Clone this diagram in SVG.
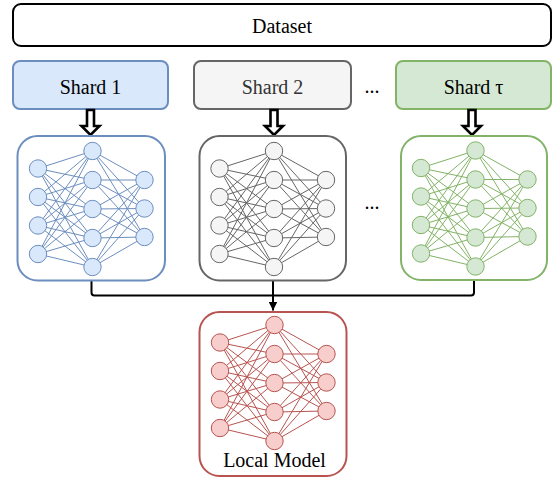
<svg xmlns="http://www.w3.org/2000/svg" xmlns:xlink="http://www.w3.org/1999/xlink" width="559" height="481" viewBox="0 0 559 481">
<style>
.box{stroke-width:2}
.conn{fill:none;stroke:#000;stroke-width:2}
.hollow{fill:#fff;stroke:#000;stroke-width:2.6;stroke-linejoin:miter}
.blue{fill:#dae8fc;stroke:#6c8ebf}
.gray{fill:#f5f5f5;stroke:#666666}
.green{fill:#d5e8d4;stroke:#82b366}
.panel{fill:#fff}
.net line{stroke-width:1.2}
.net circle{stroke-width:1.3}
</style>
<defs>
<marker id="ah" viewBox="0 0 10 10" refX="10" refY="5" markerWidth="4.5" markerHeight="4.5" orient="auto" markerUnits="strokeWidth">
<path d="M0,0 L10,5 L0,10 Z" fill="#000"/>
</marker>
<g id="net">
<line x1="0" y1="17.5" x2="54.5" y2="0"/><line x1="0" y1="17.5" x2="54.5" y2="29"/><line x1="0" y1="17.5" x2="54.5" y2="58"/><line x1="0" y1="17.5" x2="54.5" y2="87"/><line x1="0" y1="17.5" x2="54.5" y2="116"/>
<line x1="0" y1="46" x2="54.5" y2="0"/><line x1="0" y1="46" x2="54.5" y2="29"/><line x1="0" y1="46" x2="54.5" y2="58"/><line x1="0" y1="46" x2="54.5" y2="87"/><line x1="0" y1="46" x2="54.5" y2="116"/>
<line x1="0" y1="74.5" x2="54.5" y2="0"/><line x1="0" y1="74.5" x2="54.5" y2="29"/><line x1="0" y1="74.5" x2="54.5" y2="58"/><line x1="0" y1="74.5" x2="54.5" y2="87"/><line x1="0" y1="74.5" x2="54.5" y2="116"/>
<line x1="0" y1="103" x2="54.5" y2="0"/><line x1="0" y1="103" x2="54.5" y2="29"/><line x1="0" y1="103" x2="54.5" y2="58"/><line x1="0" y1="103" x2="54.5" y2="87"/><line x1="0" y1="103" x2="54.5" y2="116"/>
<line x1="54.5" y1="0" x2="106.5" y2="29"/><line x1="54.5" y1="0" x2="106.5" y2="57.5"/><line x1="54.5" y1="0" x2="106.5" y2="86"/>
<line x1="54.5" y1="29" x2="106.5" y2="29"/><line x1="54.5" y1="29" x2="106.5" y2="57.5"/><line x1="54.5" y1="29" x2="106.5" y2="86"/>
<line x1="54.5" y1="58" x2="106.5" y2="29"/><line x1="54.5" y1="58" x2="106.5" y2="57.5"/><line x1="54.5" y1="58" x2="106.5" y2="86"/>
<line x1="54.5" y1="87" x2="106.5" y2="29"/><line x1="54.5" y1="87" x2="106.5" y2="57.5"/><line x1="54.5" y1="87" x2="106.5" y2="86"/>
<line x1="54.5" y1="116" x2="106.5" y2="29"/><line x1="54.5" y1="116" x2="106.5" y2="57.5"/><line x1="54.5" y1="116" x2="106.5" y2="86"/>
<circle cx="0" cy="17.5" r="8.7"/><circle cx="0" cy="46" r="8.7"/><circle cx="0" cy="74.5" r="8.7"/><circle cx="0" cy="103" r="8.7"/>
<circle cx="54.5" cy="0" r="8.7"/><circle cx="54.5" cy="29" r="8.7"/><circle cx="54.5" cy="58" r="8.7"/><circle cx="54.5" cy="87" r="8.7"/><circle cx="54.5" cy="116" r="8.7"/>
<circle cx="106.5" cy="29" r="8.7"/><circle cx="106.5" cy="57.5" r="8.7"/><circle cx="106.5" cy="86" r="8.7"/>
</g>
</defs>

<g id="dataset">
<rect x="13" y="4" width="538" height="42" rx="8" fill="#fff" stroke="#000" stroke-width="2"/>
<text font-family="Liberation Serif" font-size="20" text-anchor="middle" x="282" y="33" fill="#000">Dataset</text>
</g>

<g id="shard1">
<rect class="box blue" x="13" y="61" width="155" height="48" rx="7"/>
<text font-family="Liberation Serif" font-size="20" text-anchor="middle" x="90.5" y="93.5" fill="#000">Shard 1</text>
</g>
<g id="shard2">
<rect class="box gray" x="194" y="61" width="157" height="48" rx="7"/>
<text font-family="Liberation Serif" font-size="20" text-anchor="middle" x="272.5" y="93.5" fill="#333333">Shard 2</text>
</g>
<g id="ellipsis-top"><text font-family="Liberation Serif" font-size="20" text-anchor="middle" x="372" y="93" fill="#000">...</text></g>
<g id="shardtau">
<rect class="box green" x="396" y="61" width="155" height="48" rx="7"/>
<text font-family="Liberation Serif" font-size="20" text-anchor="middle" x="473.5" y="93.5" fill="#000">Shard τ</text>
</g>

<g id="connectors">
<path class="hollow" d="M87,110 L94,110 L94,126 L99.5,126 L90.5,135 L81.5,126 L87,126 Z"/>
<path class="hollow" d="M270.5,110 L277.5,110 L277.5,126 L283,126 L274,135 L265,126 L270.5,126 Z"/>
<path class="hollow" d="M468.5,110 L475.5,110 L475.5,126 L481,126 L472,135 L463,126 L468.5,126 Z"/>
<path class="conn" d="M91.5,281 L91.5,292.5 Q91.5,295.5 94.5,295.5 L471,295.5 Q474,295.5 474,292.5 L474,281"/>
<path class="conn" d="M273,281 L273,310.5" marker-end="url(#ah)"/>
</g>

<g id="model1">
<rect class="box panel" x="17.5" y="136" width="147.5" height="144.5" rx="20" stroke="#6c8ebf"/>
<use xlink:href="#net" href="#net" transform="translate(38,151)" class="net" fill="#dae8fc" stroke="#6c8ebf"/>
</g>
<g id="model2">
<rect class="box panel" x="199.5" y="136" width="146.5" height="144.5" rx="20" stroke="#666666"/>
<use xlink:href="#net" href="#net" transform="translate(219.5,151)" class="net" fill="#f5f5f5" stroke="#666666"/>
</g>
<g id="ellipsis-mid"><text font-family="Liberation Serif" font-size="20" text-anchor="middle" x="372" y="209" fill="#000">...</text></g>
<g id="model3">
<rect class="box panel" x="401" y="136" width="146" height="144" rx="20" stroke="#82b366"/>
<use xlink:href="#net" href="#net" transform="translate(421,150.5)" class="net" fill="#d5e8d4" stroke="#82b366"/>
</g>
<g id="localmodel">
<rect class="box panel" x="199.5" y="312" width="147" height="164" rx="20" stroke="#b85450"/>
<use xlink:href="#net" href="#net" transform="translate(220,325)" class="net" fill="#f8cecc" stroke="#b85450"/>
<text font-family="Liberation Serif" font-size="20" text-anchor="middle" x="274.5" y="467" fill="#000">Local Model</text>
</g>
</svg>
